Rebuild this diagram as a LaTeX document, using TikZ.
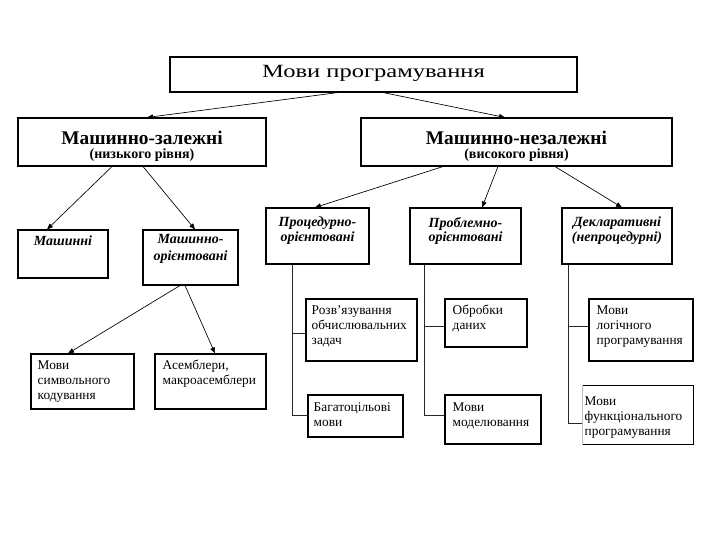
\documentclass[tikz,border=0pt]{standalone}
\usepackage{fontspec}
\setmainfont{Liberation Serif}
\usetikzlibrary{arrows.meta}
\tikzset{
  box/.style={draw=black, line width=0.8pt, inner sep=0pt},
  arr/.style={-{Triangle[length=4.5pt,width=3.5pt]}, line width=0.5pt},
  trunk/.style={line width=0.7pt, draw=black!85},
  leaf/.style={inner sep=0pt, align=left, anchor=north west, font=\fontsize{10}{11.25}\selectfont},
  cat/.style={inner sep=0pt, align=center, anchor=north, font=\fontsize{10.5}{10.75}\selectfont\bfseries\itshape},
  head/.style={inner sep=0pt, font=\fontsize{14.5}{16}\selectfont\bfseries},
  subh/.style={inner sep=0pt, font=\fontsize{10.5}{12}\selectfont\bfseries}
}
\begin{document}
\begin{tikzpicture}[x=0.75pt,y=-0.75pt]
\useasboundingbox[fill=white] (0,0) rectangle (720,540);
% boxes
\node[box, minimum width=305.25pt, minimum height=26.25pt] (top) at (373.5,74.5) {};
\node[box, minimum width=186pt, minimum height=36pt] (mz) at (142,142) {};
\node[box, minimum width=233.25pt, minimum height=36pt] (mn) at (516.5,142) {};
\node[box, minimum width=67.5pt, minimum height=36pt] (mash) at (63,254) {};
\node[box, minimum width=71.25pt, minimum height=41.25pt] (mashor) at (190.5,257.5) {};
\node[box, minimum width=77.25pt, minimum height=41.25pt] (sym) at (82.5,381.5) {};
\node[box, minimum width=83.25pt, minimum height=41.25pt] (asm) at (210.5,381.5) {};
\node[box, minimum width=77.25pt, minimum height=42pt] (proc) at (317.5,236) {};
\node[box, minimum width=83.25pt, minimum height=42pt] (probl) at (465.5,236) {};
\node[box, minimum width=82.5pt, minimum height=42pt] (decl) at (617,236) {};
\node[box, minimum width=83.25pt, minimum height=46.5pt] (rozv) at (361.5,330) {};
\node[box, minimum width=71.25pt, minimum height=31.5pt] (bagat) at (355.5,416) {};
\node[box, minimum width=61.5pt, minimum height=36pt] (obrob) at (486,323) {};
\node[box, minimum width=72pt, minimum height=36.75pt] (model) at (493,419.5) {};
\node[box, minimum width=78pt, minimum height=46.5pt] (logp) at (641,330) {};
\node[box, draw=none, minimum width=82.5pt, minimum height=43.5pt] (func) at (638,415) {};
\draw[line width=0.8pt] (func.north west) -- (func.north east) -- (func.south east) -- (func.south west);
\draw[line width=0.5pt, draw=black!25] (func.south west) -- (func.north west);
% texts
\node[anchor=base, inner sep=0pt] (ttop) at ([yshift=-2.25pt]top.center) {\resizebox{167pt}{\height}{\fontsize{14}{16}\selectfont Мови програмування}};
\node[head] (tmz) at ([yshift=3.4pt]mz.center) {Машинно-залежні};
\node[subh] (smz) at ([yshift=-9.75pt]mz.center) {(низького рівня)};
\node[head] (tmn) at ([yshift=3.4pt]mn.center) {Машинно-незалежні};
\node[subh] (smn) at ([yshift=-9.75pt]mn.center) {(високого рівня)};
\node[cat] (tmash) at ([yshift=-4.5pt]mash.north) {Машинні};
\node[cat, font=\fontsize{10.5}{12.75}\selectfont\bfseries\itshape] (tmashor) at ([yshift=-3.75pt]mashor.north) {Машинно-\\орієнтовані};
\node[cat] (tproc) at ([yshift=-7pt]proc.north) {Процедурно-\\орієнтовані};
\node[cat] (tprobl) at ([yshift=-7pt]probl.north) {Проблемно-\\орієнтовані};
\node[cat] (tdecl) at ([yshift=-7pt]decl.north) {Декларативні\\(непроцедурні)};
\node[leaf] (tsym) at ([xshift=5.25pt,yshift=-5pt]sym.north west) {Мови\\символьного\\кодування};
\node[leaf] (tasm) at ([xshift=6pt,yshift=-5pt]asm.north west) {Асемблери,\\макроасемблери};
\node[leaf] (trozv) at ([xshift=4.5pt,yshift=-5pt]rozv.north west) {Розв’язування\\обчислювальних\\задач};
\node[leaf] (tbagat) at ([xshift=4.5pt,yshift=-5.75pt]bagat.north west) {Багатоцільові\\мови};
\node[leaf] (tobrob) at ([xshift=6pt,yshift=-5pt]obrob.north west) {Обробки\\даних};
\node[leaf] (tmodel) at ([xshift=6pt,yshift=-5.75pt]model.north west) {Мови\\моделювання};
\node[leaf] (tlogp) at ([xshift=6pt,yshift=-5pt]logp.north west) {Мови\\логічного\\програмування};
\node[leaf] (tfunc) at ([xshift=1.5pt,yshift=-8pt]func.north west) {Мови\\функціонального\\програмування};
% arrows
\draw[arr] ([xshift=-26.6pt]top.south) -- ([xshift=3.75pt]mz.north);
\draw[arr] ([xshift=7.1pt]top.south) -- ([xshift=-8.6pt]mn.north);
\draw[arr] ([xshift=-22.5pt]mz.south) -- ([xshift=-12pt]mash.north);
\draw[arr] ([xshift=0.75pt]mz.south) -- ([xshift=3.4pt]mashor.north);
\draw[arr] ([xshift=-7.9pt]mashor.south) -- ([xshift=-10.9pt]sym.north);
\draw[arr] ([xshift=-4.1pt]mashor.south) -- ([xshift=3.4pt]asm.north);
\draw[arr] ([xshift=-55.1pt]mn.south) -- ([xshift=-1.9pt]proc.north);
\draw[arr] ([xshift=-13.9pt]mn.south) -- ([xshift=12.4pt]probl.north);
\draw[arr] ([xshift=28.9pt]mn.south) -- ([xshift=3.75pt]decl.north);
% trunks
\draw[trunk] ([xshift=-19.1pt]proc.south) |- ([yshift=-2.25pt]rozv.west);
\draw[trunk] ([xshift=-19.1pt]proc.south) |- ([yshift=0.75pt]bagat.west);
\draw[trunk] ([xshift=-31.1pt]probl.south) |- ([yshift=-2.25pt]obrob.west);
\draw[trunk] ([xshift=-31.1pt]probl.south) |- ([yshift=3.4pt]model.west);
\draw[trunk] ([xshift=-36.75pt]decl.south) |- ([yshift=3pt]logp.west);
\draw[trunk] ([xshift=-36.75pt]decl.south) |- ([yshift=-6pt]func.west);
\end{tikzpicture}
\end{document}
